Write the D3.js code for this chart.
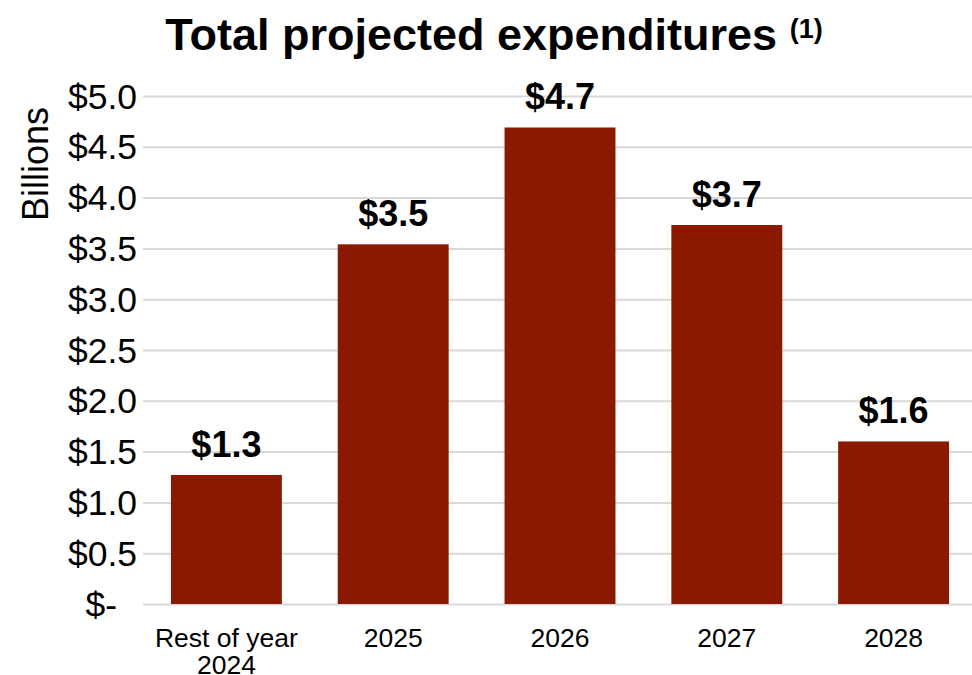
<!DOCTYPE html>
<html>
<head>
<meta charset="utf-8">
<script src="https://cdn.jsdelivr.net/npm/d3@7"></script>
<style>
  body { margin: 0; background: #fff; }
  text { font-family: "Liberation Sans", Arial, sans-serif; }
</style>
</head>
<body>
<div id="chart"></div>
<script>
// chart data
const categories = ["Rest of year\n2024", "2025", "2026", "2027", "2028"]
const values = [1.27, 3.54, 4.69, 3.73, 1.60]
const valueLabels = ["$1.3", "$3.5", "$4.7", "$3.7", "$1.6"]
const yTicks = [0, 0.5, 1.0, 1.5, 2.0, 2.5, 3.0, 3.5, 4.0, 4.5, 5.0]

const width = 972, height = 675
const margin = { top: 96, right: -5, bottom: 71, left: 143 }

const svg = d3.select("#chart").append("svg")
    .attr("width", width)
    .attr("height", height)

let x = d3.scaleBand()
    .domain(categories)
    .range([margin.left, width - margin.right])
    .paddingInner(0.335)
    .paddingOuter(0.1675)

let y = d3.scaleLinear()
    .domain([0, 5])
    .range([height - margin.bottom, margin.top])

// gridlines + y labels
let yAxis = svg.append("g")
    .attr("transform", "translate(" + margin.left + ",0)")
    .call(d3.axisLeft(y)
        .tickValues(yTicks)
        .tickSize(-(width - margin.right - margin.left))
        .tickPadding(6)
        .tickFormat(d => d === 0 ? "$-" : "$" + d.toFixed(1)))
    .call(g => {
        g.select(".domain").remove()
        g.selectAll(".tick line").attr("stroke", "#d9d9d9").attr("stroke-width", 2)
        g.selectAll(".tick text")
            .attr("font-size", 35.5)
            .attr("fill", "#000")
            .attr("dy", "0.34em")
        g.selectAll(".tick").filter(d => d === 0).select("text").attr("x", -26)
    })

// bars
svg.append("g").selectAll("rect")
    .data(values)
    .enter().append("rect")
    .attr("x", (d, i) => x(categories[i]))
    .attr("width", x.bandwidth())
    .attr("y", d => y(d))
    .attr("height", d => y(0) - y(d))
    .attr("fill", "#8a1900")

// value labels
svg.append("g").selectAll("text")
    .data(values)
    .enter().append("text")
    .attr("x", (d, i) => x(categories[i]) + x.bandwidth() / 2)
    .attr("y", d => y(d) - 18)
    .attr("text-anchor", "middle")
    .attr("font-size", 36)
    .attr("font-weight", "bold")
    .text((d, i) => valueLabels[i])

// x labels (second line runs to the bottom edge, as in the source)
let xAxis = svg.append("g")
    .attr("transform", "translate(0," + y(0) + ")")
    .call(d3.axisBottom(x).tickSize(0).tickFormat(""))
    .call(g => {
        g.select(".domain").remove()
        g.selectAll(".tick").each(function (d) {
            let t = d3.select(this).append("text")
                .attr("text-anchor", "middle")
                .attr("font-size", 26.5)
                .attr("fill", "#000")
            d.split("\n").forEach((line, i) => {
                t.append("tspan").attr("x", 0).attr("y", 43 + i * 27).text(line)
            })
        })
    })

// y axis title
svg.append("text")
    .attr("transform", "translate(48,164) rotate(-90)")
    .attr("text-anchor", "middle")
    .attr("font-size", 36)
    .text("Billions")

// title
let title = svg.append("text")
    .attr("x", 494)
    .attr("y", 50)
    .attr("text-anchor", "middle")
    .attr("font-weight", "bold")
    .attr("font-size", 45)
title.append("tspan").text("Total projected expenditures ")
title.append("tspan").attr("font-size", 27).attr("dy", -12).text("(1)")
</script>
</body>
</html>
